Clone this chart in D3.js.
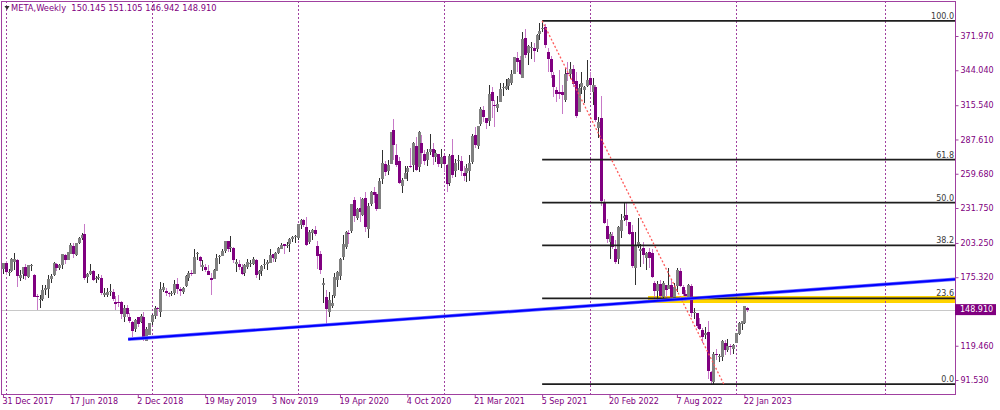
<!DOCTYPE html>
<html><head><meta charset="utf-8">
<script src="https://cdn.jsdelivr.net/npm/d3@7"></script>
<style>html,body{margin:0;padding:0;background:#fff;overflow:hidden}svg{display:block}</style>
</head><body><svg id="c" width="1000" height="410"></svg>
<script>
// ---------- DATA ----------
const firstWeek = "2017-12-31";
const open = [181.9,187.2,178.5,180.0,188.0,189.0,174.8,178.0,183.5,175.5,
185.0,177.0,160.0,157.0,157.9,165.0,165.8,173.8,177.0,186.5,
183.0,184.9,193.1,189.7,194.0,201.0,193.4,203.5,207.5,210.5,
175.3,178.0,180.1,173.7,175.0,174.9,161.0,161.0,163.0,163.0,
155.5,155.0,155.0,143.0,150.1,143.0,139.0,133.0,143.0,139.0,
143.0,123.1,128.4,139.0,144.0,150.0,147.0,165.0,164.0,162.5,
162.0,162.6,170.0,165.4,163.0,167.8,175.0,179.0,178.3,194.8,
192.0,184.0,184.0,180.0,175.0,174.0,180.5,192.0,193.0,196.5,
205.0,199.0,199.5,186.0,186.0,183.6,179.0,184.0,187.0,186.0,
189.5,178.0,180.0,185.0,186.0,187.0,194.0,190.0,195.0,198.0,
202.0,201.0,202.0,206.8,207.9,207.0,218.0,222.0,216.0,204.0,
211.0,214.0,201.0,194.0,169.0,159.0,147.0,152.0,160.0,173.0,
176.0,192.0,200.0,211.0,213.0,238.0,224.0,232.0,226.0,240.0,
215.0,235.0,245.0,243.0,231.0,255.0,268.0,262.0,268.0,295.0,
275.0,270.0,250.0,255.0,261.0,266.0,267.0,282.0,265.0,285.0,
276.0,271.0,277.0,280.0,273.0,276.0,268.0,274.0,267.0,252.0,
275.0,262.0,270.0,270.0,260.0,260.0,262.0,269.0,291.0,282.0,
300.0,312.0,305.0,303.0,326.0,316.0,313.0,318.0,330.0,329.0,
331.0,334.0,341.0,354.0,352.0,338.0,370.0,358.0,362.0,362.0,
361.0,374.0,378.0,379.0,359.0,353.0,340.0,328.0,326.0,326.0,
320.0,342.0,341.0,345.0,335.0,310.0,330.0,328.0,331.0,338.0,
326.0,330.0,297.0,305.0,237.0,217.0,204.0,209.0,198.0,190.0,
213.0,224.0,226.0,220.0,212.0,183.0,201.0,197.0,199.0,191.0,
196.0,195.0,171.0,164.0,170.0,159.0,169.0,166.0,169.0,158.0,
168.0,180.0,167.0,162.0,159.0,168.0,146.0,146.0,137.0,132.0,
128.0,131.0,98.0,90.0,113.0,111.0,110.0,122.0,116.0,119.0,
117.0,122.0,129.0,137.0,138.0,150.145];
const high = [186.9,188.9,182.0,190.7,195.3,190.5,181.0,183.5,186.1,185.5,
186.1,178.0,161.4,161.0,168.9,168.7,177.1,177.8,187.7,187.0,
186.3,194.6,194.6,196.1,203.6,203.0,203.4,207.8,211.0,218.6,
178.9,186.5,181.0,176.5,178.0,176.8,166.2,166.3,170.0,166.0,
160.3,160.8,155.8,152.7,152.9,146.0,140.0,141.0,143.0,145.0,
147.0,134.5,138.0,145.7,151.5,151.0,171.7,170.7,166.5,163.4,
164.3,173.3,175.0,167.0,167.5,177.0,180.3,180.8,198.5,196.2,
192.6,189.2,185.7,185.4,179.0,182.0,193.9,193.5,198.0,205.0,
205.0,208.7,200.0,190.5,189.6,186.0,186.5,189.9,189.6,191.5,
190.0,181.0,185.0,190.0,189.5,198.1,194.5,196.0,200.0,203.0,
202.0,204.0,207.5,208.9,210.0,218.9,222.5,223.0,224.2,214.0,
215.0,217.0,205.0,197.0,175.0,165.0,163.0,161.0,179.0,180.0,
191.0,209.7,213.0,214.0,235.0,241.0,232.0,240.9,240.0,244.4,
236.0,246.0,249.0,245.0,255.9,278.9,270.0,271.0,294.0,304.7,
284.0,273.0,256.0,265.6,266.0,280.6,285.4,290.0,294.6,291.0,
279.0,280.0,292.0,285.0,279.0,276.0,280.0,275.0,268.0,276.0,
288.0,272.0,275.0,274.0,266.0,268.0,275.0,292.0,298.0,299.0,
314.0,315.0,305.0,331.8,330.0,320.0,323.0,334.0,334.0,337.0,
338.0,344.0,355.0,359.0,356.0,375.0,377.6,365.0,367.0,366.0,
374.0,382.8,384.3,382.0,362.0,356.0,343.0,330.0,344.0,332.0,
346.0,351.0,351.0,348.0,343.0,333.0,343.0,331.0,352.7,343.0,
338.0,332.0,306.0,323.0,239.0,223.0,212.0,212.0,206.0,217.0,
227.0,236.9,236.0,220.0,218.0,212.0,224.0,202.0,204.0,196.0,
199.0,198.0,172.0,172.0,173.0,172.0,169.0,183.0,173.0,171.0,
183.0,183.0,169.0,165.0,170.0,170.0,150.0,146.0,142.0,134.0,
135.0,140.0,99.0,114.0,117.0,113.0,124.0,124.0,125.0,121.0,
121.0,130.0,139.0,140.0,152.0,151.105];
const low = [177.6,177.4,176.0,179.9,181.0,167.2,172.0,174.0,173.0,174.5,
180.0,159.0,149.0,150.5,156.0,161.0,158.0,171.0,176.5,180.0,
181.0,182.0,186.0,189.0,194.0,191.0,192.5,202.0,206.0,173.0,
170.3,177.0,172.0,171.0,173.0,160.5,159.0,159.2,160.2,156.0,
148.5,151.0,141.0,139.0,143.0,138.0,126.9,131.0,135.0,138.0,
123.0,123.0,128.4,136.0,141.0,144.0,143.0,163.0,160.0,159.6,
160.0,161.0,162.0,160.2,162.0,167.0,172.0,176.0,178.0,189.0,
184.0,180.3,179.8,177.0,160.8,174.0,180.0,186.0,193.0,195.0,
196.0,196.0,187.0,179.5,181.0,177.0,176.6,182.0,184.0,185.0,
175.0,173.0,176.0,182.0,181.0,187.0,188.0,188.0,194.0,198.0,
194.0,199.0,196.0,204.0,203.0,206.0,215.0,216.0,201.0,202.0,
206.0,209.0,181.8,178.0,154.0,137.1,143.0,150.0,158.0,167.0,
173.0,189.0,198.0,202.0,211.0,220.0,222.0,220.0,225.0,212.0,
207.0,233.0,236.0,229.0,231.0,251.0,258.0,259.0,268.0,271.0,
265.0,251.0,244.1,255.0,254.0,264.0,261.0,262.0,261.0,268.0,
267.0,266.0,275.0,267.0,269.0,265.0,264.0,261.0,244.6,250.0,
256.0,257.0,263.0,258.0,253.5,253.0,254.0,268.0,281.0,280.0,
299.0,302.0,296.0,299.0,305.0,298.0,310.0,318.0,323.0,328.0,
328.0,332.0,341.0,343.0,340.0,338.0,354.0,348.0,353.0,351.0,
359.0,369.0,375.0,362.0,343.0,338.0,322.0,318.0,321.0,308.1,
318.0,335.0,337.0,330.0,305.0,310.0,325.0,317.0,330.0,326.0,
316.0,302.0,289.0,233.0,219.0,203.0,190.2,198.0,186.0,185.8,
207.0,221.0,217.0,210.0,183.0,169.0,199.0,184.0,186.0,181.0,
183.0,175.0,154.3,156.0,158.0,157.0,158.0,166.0,157.0,158.0,
163.0,167.0,160.0,156.0,158.0,143.0,141.0,134.0,132.0,122.0,
125.0,92.6,88.09,88.5,108.0,106.0,107.0,112.0,114.0,112.0,
113.0,122.0,128.0,132.0,137.0,146.942];
const close = [186.85,179.37,179.80,190.00,190.28,176.11,177.36,183.29,176.62,185.23,
185.09,159.39,159.79,157.20,164.52,166.28,173.59,176.61,186.99,182.68,
184.89,193.99,189.10,195.85,201.50,194.32,203.23,207.32,209.94,174.89,
177.78,180.26,173.09,174.65,175.73,162.53,162.32,162.93,164.46,157.33,
153.74,154.05,145.37,150.35,144.96,139.53,131.73,140.61,137.42,144.06,
124.95,133.20,137.95,144.20,150.04,149.01,165.71,167.33,162.50,161.89,
162.28,169.60,165.98,164.34,166.69,176.02,179.10,178.28,191.49,195.47,
188.34,185.30,180.87,177.47,173.35,181.33,191.14,193.00,196.40,204.87,
198.36,199.75,189.02,187.85,183.70,177.75,185.67,187.49,187.19,189.93,
177.10,180.45,184.19,185.85,187.89,193.03,190.84,195.10,198.82,201.64,
201.05,201.89,206.30,208.10,208.67,218.30,222.14,217.94,201.91,212.33,
214.18,210.18,192.47,181.09,170.28,149.73,156.79,154.18,175.19,179.24,
190.07,202.27,212.35,210.70,234.91,225.46,230.77,228.58,238.79,216.08,
233.42,245.07,242.03,230.71,253.67,268.44,261.24,267.01,293.66,282.73,
266.61,252.53,254.82,259.94,264.45,265.93,284.79,263.11,293.41,276.95,
269.70,277.81,279.70,273.55,276.40,267.40,273.16,267.57,251.36,274.50,
258.33,268.10,270.50,261.56,257.62,264.28,268.40,290.11,283.02,298.66,
312.46,306.18,301.13,325.08,319.08,315.94,316.23,328.73,330.35,331.26,
336.51,341.37,354.70,350.42,341.00,369.79,356.30,363.51,362.65,359.37,
372.63,376.26,378.69,364.72,352.96,343.01,330.05,324.76,324.61,323.57,
341.13,340.89,345.30,333.12,306.84,329.75,333.79,330.45,336.35,331.79,
331.90,303.17,301.71,237.76,219.55,206.16,210.48,200.06,187.61,216.49,
221.82,224.85,222.33,210.18,184.11,200.47,203.77,198.62,193.54,195.13,
190.78,175.57,163.74,170.16,160.03,170.90,164.70,169.27,159.10,167.11,
180.89,167.96,161.78,160.32,169.15,146.29,147.21,135.68,133.45,126.76,
130.01,99.20,90.79,113.02,112.05,111.41,123.49,115.90,119.43,118.04,
120.34,130.02,138.05,139.37,151.74,148.91];

const priceTicks = [371.970, 344.040, 315.540, 287.610, 259.680, 231.750, 203.250, 175.320, 119.460, 91.530];
const dateTicks = ["31 Dec 2017","17 Jun 2018","2 Dec 2018","19 May 2019","3 Nov 2019","19 Apr 2020",
  "4 Oct 2020","21 Mar 2021","5 Sep 2021","20 Feb 2022","7 Aug 2022","22 Jan 2023"];
const separatorYears = [2018, 2019, 2020, 2021, 2022, 2023, 2024];
const fibLevels = [0.0, 23.6, 38.2, 50.0, 61.8, 100.0];
const fibHighDate = "2021-09-05", fibHighPrice = 384.33;
const fibLowDate = "2022-12-02", fibLowPrice = 88.09;
const trendDates = ["2018-11-08", "2022-08-07"];
const trendPrices = [124.7, 157.2];
const zoneFrom = "2022-05-27", zoneTop = 160.0, zoneBottom = 154.3;
const lastPrice = 148.91;
const headerName = "META,Weekly";
const headerOHLC = [150.145, 151.105, 146.942, 148.910];

// ---------- CHART ----------
const purple = "#800080", frame = "#a040a0", font = "DejaVu Sans";
const P = {left: 1, top: 1, right: 955, bottom: 394};
const svg = d3.select("#c");
svg.append("rect").attr("width", 1000).attr("height", 410).attr("fill", "#fff");
svg.append("defs").append("clipPath").attr("id", "clip").append("rect")
  .attr("x", P.left).attr("y", P.top).attr("width", P.right - P.left).attr("height", P.bottom - P.top);

const parse = d3.utcParse("%Y-%m-%d");
const parseTick = d3.utcParse("%d %b %Y");
const t0 = parse(firstWeek);
const dates = open.map((_, i) => d3.utcDay.offset(t0, 7 * i));
const x = d3.scaleUtc().domain([t0, dates[dates.length - 1]]).range([3, 3 + (dates.length - 1) * 2.808]);
const y = d3.scaleLinear().domain([91.53, 371.97]).range([380, 36]);

const g = svg.append("g").attr("clip-path", "url(#clip)");

// zone (background)
g.append("rect").attr("x", x(parse(zoneFrom))).attr("y", y(zoneTop))
  .attr("width", P.right - x(parse(zoneFrom))).attr("height", y(zoneBottom) - y(zoneTop))
  .attr("fill", "#ffd400");

// current price line
g.append("line").attr("x1", P.left).attr("x2", P.right)
  .attr("y1", Math.round(y(lastPrice)) + 0.5).attr("y2", Math.round(y(lastPrice)) + 0.5)
  .attr("stroke", "#c8c8c8").attr("stroke-width", 1);

// period separators
g.selectAll("line.sep").data(separatorYears).join("line").attr("class", "sep")
  .attr("x1", d => Math.round(x(d3.utcSunday.ceil(new Date(Date.UTC(d, 0, 1))))) + 0.5)
  .attr("x2", d => Math.round(x(d3.utcSunday.ceil(new Date(Date.UTC(d, 0, 1))))) + 0.5)
  .attr("y1", P.top).attr("y2", P.bottom)
  .attr("stroke", frame).attr("stroke-width", 1).attr("stroke-dasharray", "2,2");

// candles
const data = open.map((o, i) => ({d: dates[i], o, h: high[i], l: low[i], c: close[i]}));
const cg = g.append("g").attr("shape-rendering", "crispEdges");
cg.selectAll("line.wick").data(data).join("line").attr("class", "wick")
  .attr("x1", d => Math.round(x(d.d)) + 0.5).attr("x2", d => Math.round(x(d.d)) + 0.5)
  .attr("y1", d => y(d.h)).attr("y2", d => y(d.l))
  .attr("stroke", d => d.c >= d.o ? "#303030" : "#c779c7").attr("stroke-width", 1);
cg.selectAll("rect.body").data(data).join("rect").attr("class", "body")
  .attr("x", d => Math.round(x(d.d)) - 1).attr("width", 3)
  .attr("y", d => y(Math.max(d.o, d.c)))
  .attr("height", d => Math.max(1, Math.abs(y(d.o) - y(d.c))))
  .attr("fill", d => d.c >= d.o ? "#808080" : purple);

// fibonacci
const fx0 = x(parse(fibHighDate));
const fibPrice = lv => fibLowPrice + (fibHighPrice - fibLowPrice) * lv / 100;
g.selectAll("line.fib").data(fibLevels).join("line").attr("class", "fib")
  .attr("x1", fx0).attr("x2", P.right)
  .attr("y1", d => y(fibPrice(d))).attr("y2", d => y(fibPrice(d)))
  .attr("stroke", "#1e1e1e").attr("stroke-width", 1.8);
g.selectAll("text.fib").data(fibLevels).join("text").attr("class", "fib")
  .attr("x", P.right - 1).attr("y", d => y(fibPrice(d)) - 2)
  .attr("text-anchor", "end").attr("font-family", font).attr("font-size", 8)
  .attr("fill", "#3a3a3a").text(d => d.toFixed(1));

// fib diagonal
g.append("line").attr("x1", fx0).attr("y1", y(fibHighPrice))
  .attr("x2", x(parse(fibLowDate))).attr("y2", y(fibLowPrice))
  .attr("stroke", "#ff5a5a").attr("stroke-width", 1.3).attr("stroke-dasharray", "2,2");

// trend line (ray to the right)
const tx1 = x(parse(trendDates[0])), ty1 = y(trendPrices[0]);
const tx2 = x(parse(trendDates[1])), ty2 = y(trendPrices[1]);
const slope = (ty2 - ty1) / (tx2 - tx1);
g.append("line").attr("x1", tx1).attr("y1", ty1)
  .attr("x2", P.right).attr("y2", ty1 + slope * (P.right - tx1))
  .attr("stroke", "#6b6bff").attr("stroke-width", 3.4);
g.append("line").attr("x1", tx1).attr("y1", ty1)
  .attr("x2", P.right).attr("y2", ty1 + slope * (P.right - tx1))
  .attr("stroke", "#0000ff").attr("stroke-width", 2);

// frame
svg.append("rect").attr("x", P.left + 0.5).attr("y", P.top + 0.5)
  .attr("width", P.right - P.left).attr("height", P.bottom - P.top)
  .attr("fill", "none").attr("stroke", frame).attr("stroke-width", 1);

// right axis
const ay = svg.append("g").attr("transform", `translate(${P.right + 0.5},0)`)
  .call(d3.axisRight(y).tickValues(priceTicks).tickFormat(d3.format(".3f")).tickSize(3).tickPadding(2));
ay.select(".domain").remove();
ay.selectAll("line").attr("stroke", frame);
ay.selectAll("text").attr("font-family", font).attr("font-size", 8).attr("fill", purple);

// bottom axis
const ax = svg.append("g").attr("transform", `translate(0,${P.bottom + 0.5})`)
  .call(d3.axisBottom(x).tickValues(dateTicks.map(parseTick)).tickFormat(d3.utcFormat("%-d %b %Y")).tickSize(3).tickPadding(1));
ax.select(".domain").remove();
ax.selectAll("line").attr("stroke", frame);
ax.selectAll("text").attr("text-anchor", "start").attr("x", -1)
  .attr("font-family", font).attr("font-size", 8).attr("fill", purple);

// current price box
const yp = y(lastPrice);
svg.append("rect").attr("x", P.right).attr("y", yp - 5.5).attr("width", 41).attr("height", 11).attr("fill", purple);
svg.append("text").attr("x", 960).attr("y", yp).attr("dy", "0.35em")
  .attr("font-family", font).attr("font-size", 8).attr("fill", "#fff").text(d3.format(".3f")(lastPrice));

// header
svg.append("path").attr("d", "M4.5,6 L9.5,6 L7,10 Z").attr("fill", "#303030");
svg.append("text").attr("x", 11).attr("y", 11).attr("font-family", font).attr("font-size", 8.3)
  .attr("fill", purple).style("white-space", "pre")
  .text(headerName + "  " + headerOHLC.map(d3.format(".3f")).join(" "));
</script></body></html>
